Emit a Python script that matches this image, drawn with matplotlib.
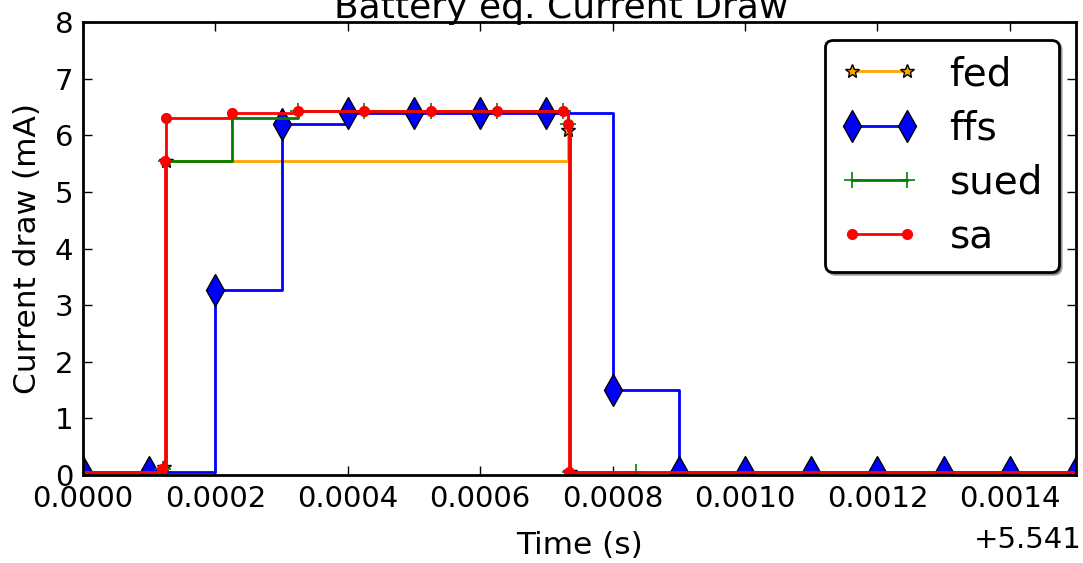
import numpy as np
import matplotlib
matplotlib.use("Agg")
import matplotlib.pyplot as plt

T0 = 5.541

# fed
fed_t = [-0.00005, 0.000122, 0.000125, 0.000733, 0.000735, 0.0016]
fed_i = [0.05, 0.15, 5.55, 6.09, 0.05, 0.05]

# ffs
ffs_t = [0.0, 0.0001, 0.0002, 0.0003, 0.0004, 0.0005, 0.0006, 0.0007,
         0.0008, 0.0009, 0.0010, 0.0011, 0.0012, 0.0013, 0.0014, 0.0015]
ffs_i = [0.05, 0.05, 3.27, 6.2, 6.4, 6.4, 6.4, 6.4,
         1.5, 0.05, 0.05, 0.05, 0.05, 0.05, 0.05, 0.05]

# sued
sued_t = [-0.00005, 0.000121, 0.000125, 0.000225, 0.000325, 0.000425, 0.000525,
          0.000625, 0.000725, 0.000733, 0.000735, 0.000835]
sued_i = [0.05, 0.1, 5.55, 6.3, 6.42, 6.42, 6.42, 6.42, 6.42, 6.2, 0.05, 0.05]

# sa
sa_t = [-0.00005, 0.00012, 0.000124, 0.000125, 0.000225, 0.000325, 0.000425,
        0.000525, 0.000625, 0.000725, 0.000733, 0.000734, 0.0016]
sa_i = [0.05, 0.1, 5.55, 6.3, 6.4, 6.42, 6.42, 6.42, 6.42, 6.42, 6.2, 0.05, 0.05]

xtick_vals = [0.0, 0.0002, 0.0004, 0.0006, 0.0008, 0.0010, 0.0012, 0.0014]
ytick_vals = [0, 1, 2, 3, 4, 5, 6, 7, 8]

plt.rcParams['font.family'] = ['DejaVu Sans']

fig = plt.figure(figsize=(10.83, 5.63), dpi=100, facecolor='white')
ax = fig.add_axes([83/1083, 1 - 475/563, (1076 - 83)/1083, (475 - 22)/563])

lw = 2.0
ax.step(T0 + np.array(fed_t), fed_i, where='post', color='#FFA500', lw=lw,
        marker='*', ms=10, mfc='#FFA500', mec='black', mew=1, label='fed')
ax.step(T0 + np.array(ffs_t), ffs_i, where='post', color='blue', lw=lw,
        marker='d', ms=16, mfc='blue', mec='black', mew=1, label='ffs')
ax.step(T0 + np.array(sued_t), sued_i, where='post', color='green', lw=lw,
        marker='+', ms=11, mec='green', mew=1.2, label='sued')
ax.step(T0 + np.array(sa_t), sa_i, where='post', color='red', lw=lw,
        marker='o', ms=7, mfc='red', mec='red', mew=1, label='sa')

ax.set_xlim(T0, T0 + 0.0015)
ax.set_ylim(0, 8)
ax.set_xticks([T0 + v for v in xtick_vals])
ax.set_yticks(ytick_vals)
fmt = ax.xaxis.get_major_formatter()
fmt.set_useOffset(T0)
ax.xaxis.get_offset_text().set_visible(False)
ax.annotate(f'+{T0:g}', xy=(1.0, 0.0), xycoords='axes fraction',
            xytext=(4, -37), textcoords='offset points',
            ha='right', va='top', fontsize=21)

ax.tick_params(direction='in', top=True, right=True, length=6.5, width=1,
               labelsize=21, pad=7)
for sp in ax.spines.values():
    sp.set_linewidth(2)

ax.set_xlabel('Time (s)', fontsize=22.5, labelpad=13)
ax.set_ylabel('Current draw (mA)', fontsize=22.5, labelpad=9)
ax.set_title('Battery eq. Current Draw', fontsize=26, pad=3, x=0.482)

leg = ax.legend(loc='upper right', fontsize=28, numpoints=2, fancybox=True,
                shadow=True, borderpad=0.4, labelspacing=0.42, handlelength=2,
                handletextpad=0.8, borderaxespad=0.45, framealpha=1)
leg.get_frame().set_edgecolor('black')
leg.get_frame().set_linewidth(2)

fig.savefig('out.png', dpi=100, facecolor='white')
